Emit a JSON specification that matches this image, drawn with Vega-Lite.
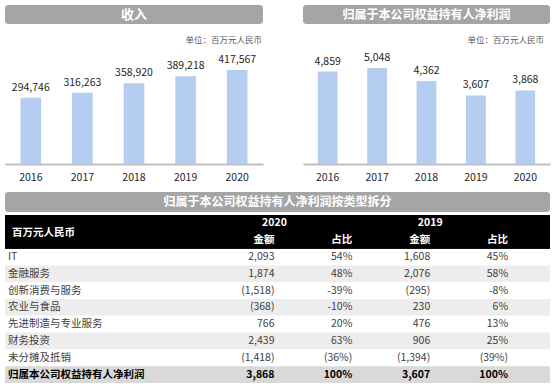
{
  "$schema": "https://vega.github.io/schema/vega-lite/v6.json",
  "padding": {"left": 5, "top": 5, "right": 4, "bottom": 0},
  "background": "white",
  "config": {"font": "Noto Sans CJK SC", "view": {"stroke": null}},
  "datasets": {
    "rev": [
      {"year": "2016", "v": 294746},
      {"year": "2017", "v": 316263},
      {"year": "2018", "v": 358920},
      {"year": "2019", "v": 389218},
      {"year": "2020", "v": 417567}
    ],
    "np": [
      {"year": "2016", "v": 4859},
      {"year": "2017", "v": 5048},
      {"year": "2018", "v": 4362},
      {"year": "2019", "v": 3607},
      {"year": "2020", "v": 3868}
    ],
    "tbl": [
      {"row": "IT", "a2020": "2,093", "p2020": "54%", "a2019": "1,608", "p2019": "45%"},
      {"row": "金融服务", "a2020": "1,874", "p2020": "48%", "a2019": "2,076", "p2019": "58%"},
      {"row": "创新消费与服务", "a2020": "(1,518)", "p2020": "-39%", "a2019": "(295)", "p2019": "-8%"},
      {"row": "农业与食品", "a2020": "(368)", "p2020": "-10%", "a2019": "230", "p2019": "6%"},
      {"row": "先进制造与专业服务", "a2020": "766", "p2020": "20%", "a2019": "476", "p2019": "13%"},
      {"row": "财务投资", "a2020": "2,439", "p2020": "63%", "a2019": "906", "p2019": "25%"},
      {"row": "未分摊及抵销", "a2020": "(1,418)", "p2020": "(36%)", "a2019": "(1,394)", "p2019": "(39%)"},
      {"row": "归属本公司权益持有人净利润", "a2020": "3,868", "p2020": "100%", "a2019": "3,607", "p2019": "100%"}
    ],
    "hdr": [
      {"row": "h1", "col": "a2020", "t": "2020"},
      {"row": "h1", "col": "a2019", "t": "2019"},
      {"row": "h2", "col": "a2020", "t": "金额"},
      {"row": "h2", "col": "p2020", "t": "占比"},
      {"row": "h2", "col": "a2019", "t": "金额"},
      {"row": "h2", "col": "p2019", "t": "占比"}
    ],
    "unit": [
      {"row": "h2", "t": "百万元人民币"}
    ]
  },
  "spacing": 9,
  "vconcat": [
    {
      "spacing": 40,
      "hconcat": [
        {
          "spacing": 11,
          "vconcat": [
            {
              "width": 258, "height": 19,
              "view": {"fill": "#a5a5a5", "cornerRadius": 3, "stroke": null},
              "data": {"values": [{"t": "收入"}]},
              "mark": {"type": "text", "color": "white", "fontWeight": "bold", "fontSize": 13},
              "encoding": {"text": {"field": "t"}}
            },
            {
              "width": 258, "height": 118,
              "title": {"text": "单位：百万元人民币", "anchor": "end", "fontSize": 8.5, "fontWeight": "normal", "color": "#595959", "offset": 2, "dx": -1},
              "data": {"name": "rev"},
              "encoding": {
                "x": {"field": "year", "type": "ordinal", "scale": {"paddingInner": 0.6, "paddingOuter": 0.3},
                  "axis": {"title": null, "labelAngle": 0, "domainColor": "#bfbfbf", "domainWidth": 2, "ticks": false, "labelFontSize": 10.5, "labelColor": "#262626", "labelPadding": 8}},
                "y": {"field": "v", "type": "quantitative", "scale": {"domain": [0, 524000]}, "axis": null}
              },
              "layer": [
                {"mark": {"type": "bar", "color": "#b4cdf0"}},
                {"mark": {"type": "text", "dy": -10, "fontSize": 10.5, "color": "#262626"}, "encoding": {"text": {"field": "v", "format": ","}}}
              ]
            }
          ]
        },
        {
          "spacing": 11,
          "vconcat": [
            {
              "width": 247, "height": 19,
              "view": {"fill": "#a5a5a5", "cornerRadius": 3, "stroke": null},
              "data": {"values": [{"t": "归属于本公司权益持有人净利润"}]},
              "mark": {"type": "text", "color": "white", "fontWeight": "bold", "fontSize": 12},
              "encoding": {"text": {"field": "t"}}
            },
            {
              "width": 247, "height": 118,
              "title": {"text": "单位：百万元人民币", "anchor": "end", "fontSize": 8.5, "fontWeight": "normal", "color": "#595959", "offset": 2, "dx": -6},
              "data": {"name": "np"},
              "encoding": {
                "x": {"field": "year", "type": "ordinal", "scale": {"paddingInner": 0.6, "paddingOuter": 0.3},
                  "axis": {"title": null, "labelAngle": 0, "domainColor": "#bfbfbf", "domainWidth": 2, "ticks": false, "labelFontSize": 10.5, "labelColor": "#262626", "labelPadding": 8}},
                "y": {"field": "v", "type": "quantitative", "scale": {"domain": [0, 6205]}, "axis": null}
              },
              "layer": [
                {"mark": {"type": "bar", "color": "#b4cdf0"}},
                {"mark": {"type": "text", "dy": -10, "fontSize": 10.5, "color": "#262626"}, "encoding": {"text": {"field": "v", "format": ","}}}
              ]
            }
          ]
        }
      ]
    },
    {
      "spacing": 3,
      "vconcat": [
        {
          "width": 545, "height": 20,
          "view": {"fill": "#a5a5a5", "cornerRadius": 3, "stroke": null},
          "data": {"values": [{"t": "归属于本公司权益持有人净利润按类型拆分"}]},
          "mark": {"type": "text", "color": "white", "fontWeight": "bold", "fontSize": 12},
          "encoding": {"text": {"field": "t"}}
        },
        {
          "width": 545, "height": 168,
          "encoding": {
            "y": {"field": "row", "type": "nominal", "axis": null,
              "scale": {"domain": ["h1", "h2", "IT", "金融服务", "创新消费与服务", "农业与食品", "先进制造与专业服务", "财务投资", "未分摊及抵销", "归属本公司权益持有人净利润"], "paddingInner": 0, "paddingOuter": 0}}
          },
          "resolve": {"scale": {"x": "shared", "y": "shared"}},
          "layer": [
            {
              "data": {"name": "tbl"},
              "mark": {"type": "rect"},
              "encoding": {
                "fill": {"field": "row", "type": "nominal", "legend": null,
                  "scale": {"domain": ["IT", "金融服务", "创新消费与服务", "农业与食品", "先进制造与专业服务", "财务投资", "未分摊及抵销", "归属本公司权益持有人净利润"],
                    "range": ["#ffffff", "#ededed", "#ffffff", "#ededed", "#ffffff", "#ededed", "#ffffff", "#d9d9d9"]}}
              }
            },
            {
              "data": {"name": "hdr"},
              "mark": {"type": "rect", "color": "#000000"}
            },
            {
              "data": {"name": "unit"},
              "mark": {"type": "text", "align": "left", "dx": -32, "dy": -7, "fontSize": 10.5, "fontWeight": "bold", "color": "#ffffff"},
              "encoding": {
                "x": {"datum": "label", "type": "nominal", "axis": null,
                  "scale": {"domain": ["label", "_1", "_2", "a2020", "p2020", "a2019", "p2019"], "paddingInner": 0, "paddingOuter": 0}},
                "text": {"field": "t"}
              }
            },
            {
              "data": {"name": "tbl"},
              "transform": [{"filter": "datum.row !== '归属本公司权益持有人净利润'"}],
              "mark": {"type": "text", "align": "left", "dx": -36, "fontSize": 10.5, "color": "#404040"},
              "encoding": {
                "x": {"datum": "label", "type": "nominal", "axis": null},
                "text": {"field": "row"}
              }
            },
            {
              "data": {"name": "tbl"},
              "transform": [{"filter": "datum.row === '归属本公司权益持有人净利润'"}],
              "mark": {"type": "text", "align": "left", "dx": -36, "fontSize": 10.5, "fontWeight": "bold", "color": "#000000"},
              "encoding": {
                "x": {"datum": "label", "type": "nominal", "axis": null},
                "text": {"field": "row"}
              }
            },
            {
              "data": {"name": "tbl"},
              "transform": [
                {"filter": "datum.row !== '归属本公司权益持有人净利润'"},
                {"fold": ["a2020", "p2020", "a2019", "p2019"], "as": ["col", "val"]}
              ],
              "mark": {"type": "text", "align": "right", "dx": -3, "fontSize": 10.5, "color": "#404040"},
              "encoding": {
                "x": {"field": "col", "bandPosition": 1, "type": "nominal", "axis": null},
                "text": {"field": "val"}
              }
            },
            {
              "data": {"name": "tbl"},
              "transform": [
                {"filter": "datum.row === '归属本公司权益持有人净利润'"},
                {"fold": ["a2020", "p2020", "a2019", "p2019"], "as": ["col", "val"]}
              ],
              "mark": {"type": "text", "align": "right", "dx": -3, "fontSize": 10.5, "fontWeight": "bold", "color": "#000000"},
              "encoding": {
                "x": {"field": "col", "bandPosition": 1, "type": "nominal", "axis": null},
                "text": {"field": "val"}
              }
            },
            {
              "data": {"name": "hdr"},
              "transform": [{"filter": "datum.row === 'h1'"}],
              "mark": {"type": "text", "align": "center", "dx": -3, "fontSize": 10.5, "fontWeight": "bold", "color": "#ffffff"},
              "encoding": {
                "x": {"field": "col", "bandPosition": 1, "type": "nominal", "axis": null},
                "text": {"field": "t"}
              }
            },
            {
              "data": {"name": "hdr"},
              "transform": [{"filter": "datum.row === 'h2'"}],
              "mark": {"type": "text", "align": "right", "dx": -3, "fontSize": 10.5, "fontWeight": "bold", "color": "#ffffff"},
              "encoding": {
                "x": {"field": "col", "bandPosition": 1, "type": "nominal", "axis": null},
                "text": {"field": "t"}
              }
            }
          ]
        }
      ]
    }
  ]
}
